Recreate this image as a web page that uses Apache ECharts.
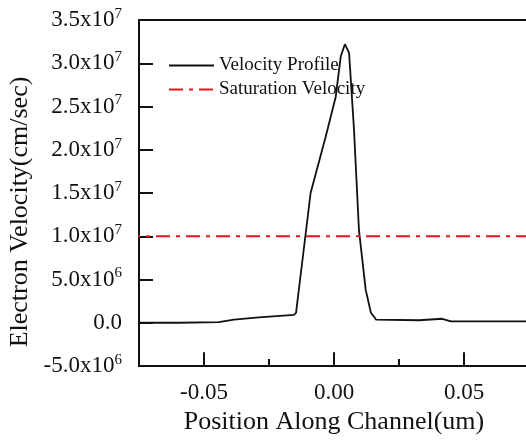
<!DOCTYPE html>
<html>
<head>
<meta charset="utf-8">
<script src="https://cdn.jsdelivr.net/npm/echarts@6/dist/echarts.min.js"></script>
<style>
  html, body { margin: 0; padding: 0; background: #fff; }
  #chart { width: 526px; height: 440px; }
</style>
</head>
<body>
<div id="chart"></div>
<script>
// velocity profile along the channel (position in um, velocity in cm/sec)
const profileX = [-0.080, -0.0597, -0.0443, -0.0385, -0.0289, -0.0154, -0.0146, -0.0090, -0.0032, 0.00065, 0.0026, 0.0042, 0.0058, 0.0077, 0.0096, 0.0122, 0.0142, 0.0154, 0.0162, 0.0327, 0.0416, 0.0450, 0.080];
const profileY = [0, 0, 0.8e5, 3.5e5, 6.3e5, 9.2e5, 1.15e6, 1.50e7, 2.15e7, 2.61e7, 3.08e7, 3.22e7, 3.12e7, 2.23e7, 1.07e7, 3.8e6, 1.15e6, 6.9e5, 3.5e5, 2.9e5, 4.6e5, 1.7e5, 1.5e5];

const satX = [-0.080, 0.080];
const satValue = 1.0e7;

const xMajorTicks = [-0.05, 0, 0.05];
const xMin = -0.075;
const xMax = 0.075;
const xStep = 0.025;
const yMin = -5e6;
const yMax = 3.5e7;
const yStep = 5e6;
// long ticks at labelled x positions reach this far up from the bottom (data units)
const majorTickReach = 1.6e6;

const FONT = "Liberation Serif";
const INK = "#111";

function yLabel(v) {
  if (v === 0) return "{m|0.0}";
  const e = Math.floor(Math.log10(Math.abs(v)) + 1e-9);
  const m = v / Math.pow(10, e);
  return "{m|" + m.toFixed(1) + "x10}{e|" + e + "}";
}

const chart = echarts.init(document.getElementById("chart"), null, { renderer: "canvas" });

chart.setOption({
  animation: false,
  backgroundColor: "#fff",
  grid: {
    left: 139,
    top: 20,
    bottom: 74,
    right: -3,
    containLabel: false,
    outerBoundsMode: "none",
    show: true,
    borderColor: INK,
    borderWidth: 2,
  },
  legend: {
    orient: "vertical",
    left: 168,
    top: 56,
    padding: 0,
    itemWidth: 45,
    itemHeight: 14,
    itemGap: 5,
    itemStyle: { opacity: 0 },
    textStyle: { fontFamily: FONT, fontSize: 19, color: INK },
    data: ["Velocity Profile", "Saturation Velocity"],
  },
  xAxis: {
    type: "value",
    min: xMin,
    max: xMax,
    interval: xStep,
    name: "Position Along Channel(um)",
    nameLocation: "middle",
    nameGap: 36,
    nameTextStyle: { fontFamily: FONT, fontSize: 26, color: INK },
    axisLine: { show: true, onZero: false, lineStyle: { color: INK, width: 2 } },
    axisTick: { inside: true, length: 7, lineStyle: { color: INK, width: 2 } },
    axisLabel: {
      customValues: xMajorTicks,
      margin: 15,
      fontFamily: FONT,
      fontSize: 23,
      color: INK,
      formatter: (v) => v.toFixed(2),
    },
    splitLine: { show: false },
  },
  yAxis: {
    type: "value",
    min: yMin,
    max: yMax,
    interval: yStep,
    name: "Electron Velocity(cm/sec)",
    nameLocation: "middle",
    nameGap: 104,
    nameTextStyle: { fontFamily: FONT, fontSize: 26, color: INK, padding: [0, 38, 0, 0] },
    axisLine: { show: true, onZero: false, lineStyle: { color: INK, width: 2 } },
    axisTick: { inside: true, length: 14, lineStyle: { color: INK, width: 2 } },
    axisLabel: {
      margin: 17,
      formatter: yLabel,
      rich: {
        m: { fontFamily: FONT, fontSize: 23, color: INK },
        e: { fontFamily: FONT, fontSize: 15, color: INK, padding: [0, 0, 12, 0] },
      },
    },
    splitLine: { show: false },
  },
  series: [
    {
      name: "Velocity Profile",
      type: "line",
      symbol: "none",
      smooth: false,
      color: INK,
      lineStyle: { color: INK, width: 1.8 },
      data: profileX.map((x, i) => [x, profileY[i]]),
      markLine: {
        silent: true,
        symbol: "none",
        label: { show: false },
        lineStyle: { color: INK, width: 2, type: "solid" },
        data: xMajorTicks.map((x) => [{ coord: [x, yMin] }, { coord: [x, yMin + majorTickReach] }]),
      },
    },
    {
      name: "Saturation Velocity",
      type: "line",
      symbol: "none",
      color: "#e3141b",
      lineStyle: { color: "#e3141b", width: 2, type: [14, 6, 4, 6] },
      data: satX.map((x) => [x, satValue]),
    },
  ],
});
</script>
</body>
</html>
